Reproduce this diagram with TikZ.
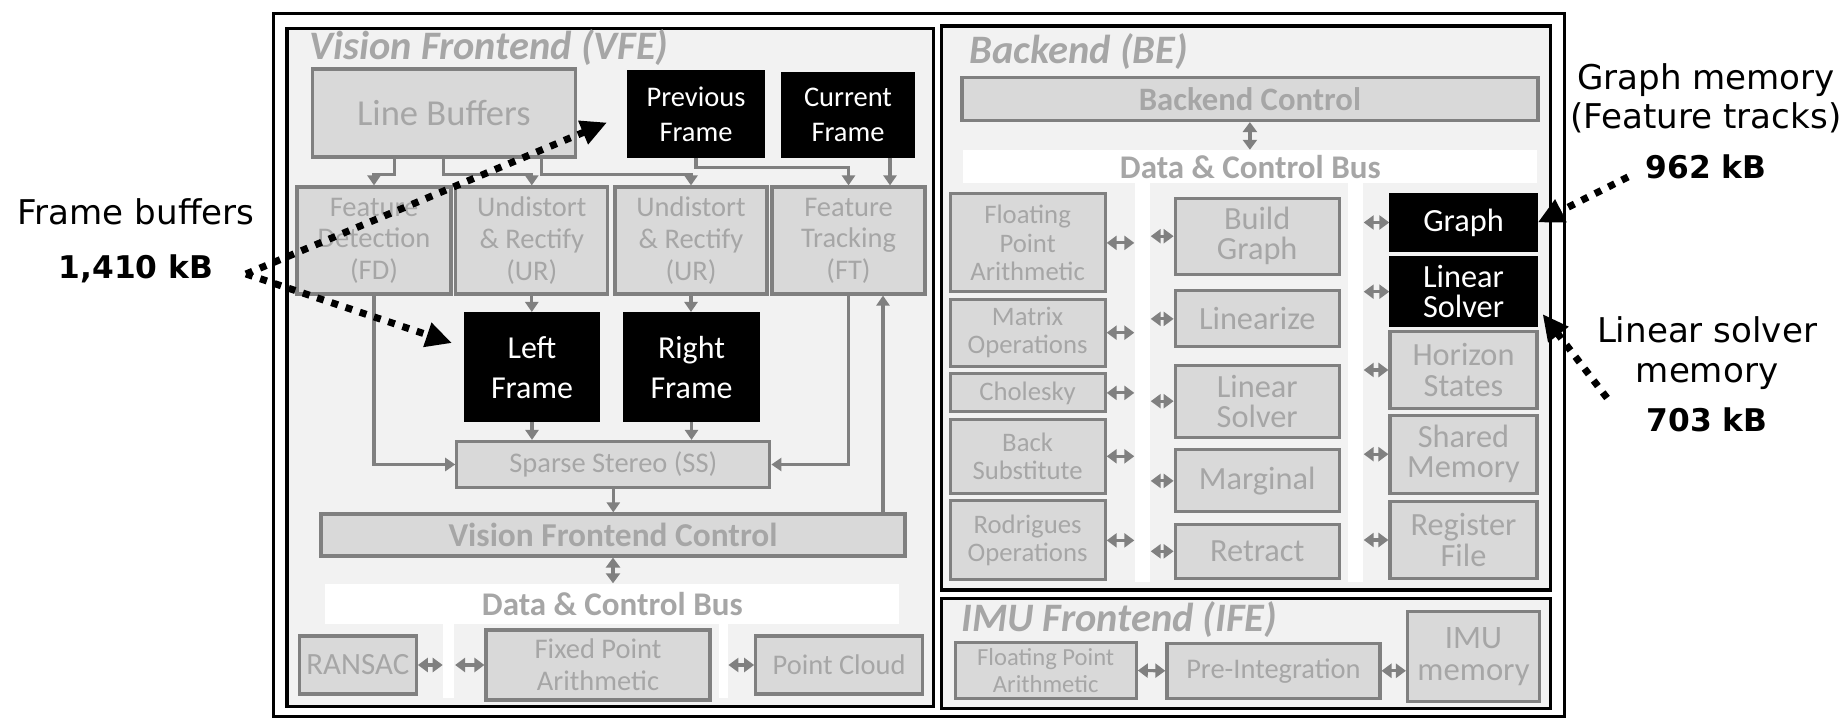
\documentclass[tikz,border=0pt]{standalone}
\usepackage{fontspec}
\setmainfont{Carlito}
\newfontfamily\notefont{DejaVu Sans}
\usetikzlibrary{arrows.meta}
\definecolor{boxgray}{HTML}{D9D9D9}
\definecolor{linegray}{HTML}{808080}
\definecolor{textgray}{HTML}{A6A6A6}
\definecolor{areagray}{HTML}{F2F2F2}
\tikzset{
	gbox/.style={draw=linegray, fill=boxgray, line width=0.9pt, text=textgray, align=center, inner sep=0pt, font=\fontsize{8.1}{9}\selectfont},
	kbox/.style={draw=black, fill=black, text=white, align=center, inner sep=0pt, font=\fontsize{8.1}{10}\selectfont},
	bleft/.style={minimum width=15.5mm, font=\fontsize{7.6}{8}\selectfont},
	bmid/.style={minimum width=16.4mm, font=\fontsize{9.2}{8.6}\selectfont},
	bright/.style={minimum width=14.7mm, font=\fontsize{9.2}{8.6}\selectfont},
	areabox/.style={draw=black, fill=areagray, line width=1pt},
	busbar/.style={fill=white, draw=none, inner sep=0pt, text=textgray, font=\bfseries\fontsize{9.4}{10}\selectfont},
	busstrip/.style={fill=white, draw=none, inner sep=0pt},
	titletext/.style={anchor=base west, text=textgray, inner sep=0pt, font=\bfseries\itshape\fontsize{11.5}{12}\selectfont},
	garrow/.style={draw=linegray, line width=0.9pt, -{Triangle[length=1mm,width=1.3mm]}},
	gdbl/.style={draw=linegray, line width=0.9pt, {Triangle[length=1mm,width=1.4mm]}-{Triangle[length=1mm,width=1.4mm]}},
	notetext/.style={anchor=base, align=center, inner sep=0pt, text=black, font=\notefont\fontsize{9.7}{11.2}\selectfont},
	dotarrow/.style={draw=black, line width=2pt, dash pattern=on 0.7mm off 0.8mm, -{Triangle[length=2.6mm,width=2.4mm]}},
}
\begin{document}
\begin{tikzpicture}[x=0.1mm, y=-0.1mm]
	\useasboundingbox (0,0) rectangle (1841,728);
	\draw[black, line width=1pt] (273.5,13.3) rectangle (1564.7,716.7);
	\draw[areabox] (287,28.3) rectangle (933.5,706.7);
	\draw[areabox] (941.4,26) rectangle (1550.4,590);
	\draw[areabox] (941.4,598.3) rectangle (1550.4,708.3);
	\node[titletext] (vfetitle) at (309,60) {Vision Frontend (VFE)};
	\node[titletext] (betitle) at (968.8,63.3) {Backend (BE)};
	\node[titletext] (ifetitle) at (960.6,631.7) {IMU Frontend (IFE)};
	\node[gbox, minimum width=26.3mm, minimum height=8.8mm, font=\fontsize{10.4}{12}\selectfont] (lb) at (443.8,113) {Line Buffers};
	\node[kbox, minimum width=13.6mm, minimum height=8.6mm] (pf) at (696,114) {Previous\\Frame};
	\node[kbox, minimum width=13.2mm, minimum height=8.4mm] (cf) at (848,115) {Current\\Frame};
	\node[gbox, minimum width=15.4mm, minimum height=10.7mm] (fd) at (374,240.5) {Feature\\Detection\\(FD)};
	\node[gbox, minimum width=15.2mm, minimum height=10.7mm] (ur1) at (531.8,240.5) {Undistort\\\& Rectify\\(UR)};
	\node[gbox, minimum width=15.2mm, minimum height=10.7mm] (ur2) at (691,240.5) {Undistort\\\& Rectify\\(UR)};
	\node[gbox, minimum width=15.3mm, minimum height=10.7mm] (ft) at (848.5,240.5) {Feature\\Tracking\\(FT)};
	\node[kbox, minimum width=13.4mm, minimum height=10.9mm, font=\fontsize{9.1}{11.4}\selectfont] (lf) at (532,367.2) {Left\\Frame};
	\node[kbox, minimum width=13.5mm, minimum height=10.9mm, font=\fontsize{9.1}{11.4}\selectfont] (rf) at (691.5,367.2) {Right\\Frame};
	\node[gbox, minimum width=31.3mm, minimum height=4.6mm] (ss) at (613.3,464.5) {Sparse Stereo (SS)};
	\node[gbox, minimum width=58.4mm, minimum height=4.2mm, font=\bfseries\fontsize{9.5}{11}\selectfont] (vfc) at (613,535) {Vision Frontend Control};
	\node[busbar, minimum width=57.4mm, minimum height=4mm] (vbus) at (612.3,604) {Data \& Control Bus};
	\node[busstrip, minimum width=1.1mm, minimum height=7.4mm] (vs1) at (448.9,661) {};
	\node[busstrip, minimum width=0.9mm, minimum height=7.4mm] (vs2) at (723.2,661) {};
	\node[gbox, minimum width=11.7mm, minimum height=5.8mm, font=\fontsize{8.8}{10}\selectfont] (ransac) at (357.8,665) {RANSAC};
	\node[gbox, minimum width=22.4mm, minimum height=7mm] (vfpa) at (598,665) {Fixed Point\\Arithmetic};
	\node[gbox, minimum width=16.7mm, minimum height=5.8mm] (pc) at (839.2,665) {Point Cloud};
	\draw[garrow] ([xshift=-4.9mm]lb.south) -- ++(0,16) -| (fd.north);
	\draw[garrow] (lb.south) -- ++(0,16) -| (ur1.north);
	\draw[garrow] ([xshift=9.8mm]lb.south) -- ++(0,16) -| (ur2.north);
	\draw[garrow] (pf.south) -- ++(0,10) -| (ft.north);
	\draw[garrow] ([xshift=4.2mm]cf.south) -- ([xshift=4.2mm]cf.south |- ft.north);
	\draw[garrow] (ur1.south) -- (ur1.south |- lf.north);
	\draw[garrow] (ur2.south) -- (ur2.south |- rf.north);
	\draw[garrow] (lf.south) -- (lf.south |- ss.north);
	\draw[garrow] (rf.south) -- (rf.south |- ss.north);
	\draw[garrow] (fd.south) |- (ss.west);
	\draw[garrow] (ft.south) |- (ss.east);
	\draw[garrow] (ss.south) -- (ss.south |- vfc.north);
	\draw[garrow] ([xshift=27mm]vfc.north) -- ([xshift=27mm]vfc.north |- ft.south);
	\draw[gdbl] (vfc.south) -- (vfc.south |- vbus.north);
	\draw[gdbl] (ransac.east) -- (ransac.east -| vs1.west);
	\draw[gdbl] (vs1.east |- vfpa.west) -- (vfpa.west);
	\draw[gdbl] (vs2.east |- pc.west) -- (pc.west);
	\node[gbox, minimum width=57.6mm, minimum height=4.3mm, font=\bfseries\fontsize{9.3}{11}\selectfont] (bc) at (1249.9,99) {Backend Control};
	\node[busbar, minimum width=57.4mm, minimum height=3.3mm] (bbus) at (1250.3,167) {Data \& Control Bus};
	\node[busstrip, minimum width=1.5mm, minimum height=39.9mm] (bs1) at (1142.5,382.5) {};
	\node[busstrip, minimum width=1.5mm, minimum height=39.9mm] (bs2) at (1355.5,382.5) {};
	\node[gbox, bleft, minimum height=9.8mm] (bfpa) at (1027.6,242.9) {Floating\\Point\\Arithmetic};
	\node[gbox, bleft, minimum height=6.7mm] (mo) at (1027.6,332.7) {Matrix\\Operations};
	\node[gbox, bleft, minimum height=3.8mm] (chol) at (1027.6,392.9) {Cholesky};
	\node[gbox, bleft, minimum height=7.4mm] (bsub) at (1027.6,456.3) {Back\\Substitute};
	\node[gbox, bleft, minimum height=7.9mm] (rod) at (1027.6,540.4) {Rodrigues\\Operations};
	\node[gbox, bmid, minimum height=7.6mm] (bg) at (1257.2,236.2) {Build\\Graph};
	\node[gbox, bmid, minimum height=5.6mm] (lin) at (1257.2,318.9) {Linearize};
	\node[gbox, bmid, minimum height=7.2mm] (lsg) at (1257.2,401.2) {Linear\\Solver};
	\node[gbox, bmid, minimum height=6.2mm] (marg) at (1257.2,480.9) {Marginal};
	\node[gbox, bmid, minimum height=5.4mm] (retr) at (1257.2,551.3) {Retract};
	\node[kbox, bright, minimum height=5.8mm] (graph) at (1463.5,222.5) {Graph};
	\node[kbox, bright, minimum height=7mm] (lsb) at (1463.5,291.7) {Linear\\Solver};
	\node[gbox, bright, minimum height=7.7mm] (hs) at (1463.5,370) {Horizon\\States};
	\node[gbox, bright, minimum height=7.8mm] (sm) at (1463.5,454.2) {Shared\\Memory};
	\node[gbox, bright, minimum height=7.7mm] (rfile) at (1463.5,540) {Register\\File};
	\draw[gdbl] (bc.south) -- (bc.south |- bbus.north);
	\draw[gdbl] (bfpa.east) -- (bfpa.east -| bs1.west);
	\draw[gdbl] (mo.east) -- (mo.east -| bs1.west);
	\draw[gdbl] (chol.east) -- (chol.east -| bs1.west);
	\draw[gdbl] (bsub.east) -- (bsub.east -| bs1.west);
	\draw[gdbl] (rod.east) -- (rod.east -| bs1.west);
	\draw[gdbl] (bs1.east |- bg.west) -- (bg.west);
	\draw[gdbl] (bs1.east |- lin.west) -- (lin.west);
	\draw[gdbl] (bs1.east |- lsg.west) -- (lsg.west);
	\draw[gdbl] (bs1.east |- marg.west) -- (marg.west);
	\draw[gdbl] (bs1.east |- retr.west) -- (retr.west);
	\draw[gdbl] (bs2.east |- graph.west) -- (graph.west);
	\draw[gdbl] (bs2.east |- lsb.west) -- (lsb.west);
	\draw[gdbl] (bs2.east |- hs.west) -- (hs.west);
	\draw[gdbl] (bs2.east |- sm.west) -- (sm.west);
	\draw[gdbl] (bs2.east |- rfile.west) -- (rfile.west);
	\node[gbox, minimum width=18.1mm, minimum height=5.6mm, font=\fontsize{7}{7.8}\selectfont] (ifpa) at (1045.7,670.5) {Floating Point\\Arithmetic};
	\node[gbox, minimum width=21.3mm, minimum height=5.5mm] (pint) at (1273.4,670.8) {Pre-Integration};
	\node[gbox, minimum width=13.2mm, minimum height=9mm, font=\fontsize{9.3}{9}\selectfont] (imu) at (1473.5,656.7) {IMU\\memory};
	\draw[gdbl] (ifpa.east) -- (pint.west);
	\draw[gdbl] (pint.east) -- (pint.east -| imu.west);
	\node[notetext] (fbuf) at (136,278.3) {Frame buffers\\[1.4mm]{\bfseries\fontsize{8.9}{11.2}\selectfont 1,410 kB}};
	\node[notetext] (gmem) at (1706,178.3) {Graph memory\\(Feature tracks)\\[1mm]{\bfseries\fontsize{8.9}{11.2}\selectfont 962 kB}};
	\node[notetext] (lmem) at (1707,431.7) {Linear solver\\memory\\[1mm]{\bfseries\fontsize{8.9}{11.2}\selectfont 703 kB}};
	\coordinate (fbout) at (246,274);
	\coordinate (gmout) at (1628,177);
	\coordinate (lmout) at (1607,398);
	\draw[dotarrow, shorten >=2.2mm] (fbout) -- (pf.west);
	\draw[dotarrow, shorten >=1.3mm] (fbout) -- ([yshift=2mm]lf.west);
	\draw[dotarrow] (gmout) -- (graph.east);
	\draw[dotarrow, shorten >=0.8mm] (lmout) -- ([yshift=-1.6mm]lsb.east);
\end{tikzpicture}
\end{document}
